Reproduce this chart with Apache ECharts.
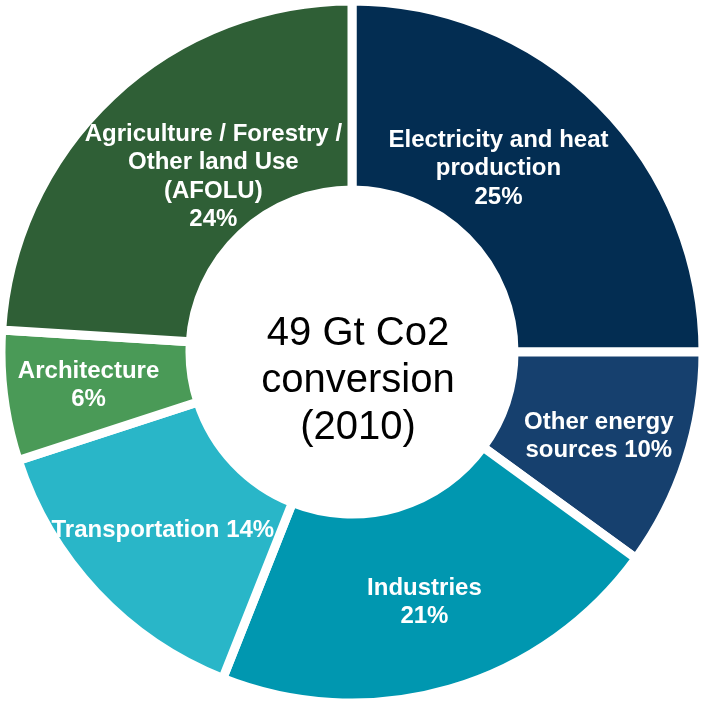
<!DOCTYPE html>
<html>
<head>
<meta charset="utf-8">
<script src="https://cdn.jsdelivr.net/npm/echarts@6/dist/echarts.min.js"></script>
<style>html,body{margin:0;padding:0;background:#fff;}#c{width:702px;height:702px;}</style>
</head>
<body>
<div id="c"></div>
<script>
const categories = ['Electricity and heat production', 'Other energy sources', 'Industries', 'Transportation', 'Architecture', 'Agriculture / Forestry / Other land Use (AFOLU)'];
const values = [25, 10, 21, 14, 6, 24];
const labelTexts = [
  'Electricity and heat\nproduction\n{v}%',
  'Other energy\nsources {v}%',
  'Industries\n{v}%',
  'Transportation {v}%',
  'Architecture\n{v}%',
  'Agriculture / Forestry /\nOther land Use\n(AFOLU)\n{v}%'
];
const colors = ['#032d52', '#16406e', '#0097b0', '#29b6c8', '#4a9a57', '#2f5f36'];
const labelOffsets = [[-37, 0], [0, 4], [0, 1], [0, 1], [-6, 1], [39, 14]];
const centerText = '49 Gt Co2\nconversion\n(2010)';

const chart = echarts.init(document.getElementById('c'), null, {renderer: 'canvas'});
chart.setOption({
  backgroundColor: '#ffffff',
  animation: false,
  graphic: [{
    type: 'text',
    x: 358, y: 381,
    style: {
      text: centerText,
      fill: '#000000',
      font: '40px "Liberation Sans", Arial, sans-serif',
      lineHeight: 47,
      align: 'center',
      verticalAlign: 'middle'
    }
  }],
  series: [{
    type: 'pie',
    center: [352, 352],
    radius: [162, 351],
    startAngle: 90,
    clockwise: true,
    avoidLabelOverlap: false,
    itemStyle: {borderColor: '#ffffff', borderWidth: 9},
    label: {
      show: true,
      position: 'inside',
      color: '#ffffff',
      fontFamily: '"Liberation Sans", Arial, sans-serif',
      fontWeight: 'bold',
      fontSize: 24,
      lineHeight: 28.5,
      align: 'center'
    },
    labelLine: {show: false},
    emphasis: {disabled: true},
    data: categories.map((c, i) => ({
      name: c,
      value: values[i],
      itemStyle: {color: colors[i]},
      label: {
        formatter: labelTexts[i].replace('{v}', values[i]),
        offset: labelOffsets[i]
      }
    }))
  }]
});
</script>
</body>
</html>
